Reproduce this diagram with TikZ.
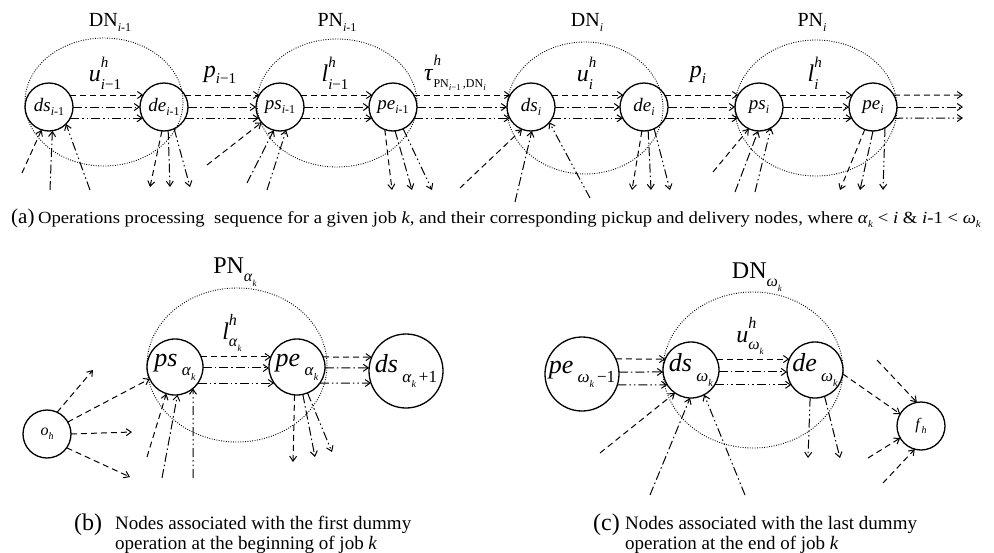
\documentclass[tikz,border=0pt]{standalone}
\usepackage{fontspec}
\setmainfont{Liberation Serif}
\usetikzlibrary{arrows.meta}
\newcommand{\fsz}[1]{\fontsize{#1}{#1}\selectfont}
\newcommand{\supsub}[2]{\makebox[0pt][l]{\raisebox{0.6em}{#1}}\raisebox{-0.3em}{#2}}
\newcommand{\lowr}[2]{\raisebox{-0.25em}{\fsz{#1}#2}}
\tikzset{
  nd/.style={circle,draw,line width=1.3pt,inner sep=0pt,outer sep=0pt,minimum size=48pt,font=\fsz{19}},
  ndb/.style={nd,minimum size=56pt,font=\fsz{26}},
  ndl/.style={nd,minimum size=74pt,font=\fsz{26}},
  nds/.style={nd,font=\fsz{16}},
  grp/.style={line width=0.9pt,dash pattern=on 0.9pt off 1.5pt},
  ar/.style={line width=1pt,-{Straight Barb[length=5pt,width=7pt]}},
  da/.style={ar,dash pattern=on 6pt off 4pt},
  dd/.style={ar,dash pattern=on 9pt off 3pt on 1.5pt off 3pt},
  ddd/.style={ar,dash pattern=on 9pt off 3pt on 1.5pt off 3pt on 1.5pt off 3pt},
  lab/.style={inner sep=0pt,font=\fsz{24}},
  grplab/.style={inner sep=0pt,font=\fsz{20}},
  captxt/.style={inner sep=0pt,anchor=base west,font=\fsz{15}},
  capsub/.style={inner sep=0pt,anchor=base west,font=\fsz{19}},
}
\begin{document}
\begin{tikzpicture}[x=1pt,y=-1pt]
\useasboundingbox (0,0) rectangle (994,552);

% ---------------- panel (a) ----------------
\draw[grp] (104,102) ellipse [x radius=79, y radius=64];
\draw[grp] (337,103) ellipse [x radius=80, y radius=64];
\draw[grp] (585,108) ellipse [x radius=78, y radius=66];
\draw[grp] (816,108) ellipse [x radius=81, y radius=68];

\node[grplab] (gDN1) at (110,22) {DN\lowr{12}{\textit{i}-1}};
\node[grplab] (gPN1) at (337,22) {PN\lowr{12}{\textit{i}-1}};
\node[grplab] (gDN2) at (587,22) {DN\lowr{12}{\textit{i}}};
\node[grplab] (gPN2) at (812,22) {PN\lowr{12}{\textit{i}}};

\node[nd] (ds1) at (49,107) {\textit{ds}\lowr{12}{\textit{i}-1}};
\node[nd] (de1) at (164,107) {\textit{de}\lowr{12}{\textit{i}-1}};
\node[nd] (ps1) at (280,107) {\textit{ps}\lowr{12}{\textit{i}-1}};
\node[nd] (pe1) at (393,107) {\textit{pe}\lowr{12}{\textit{i}-1}};
\node[nd] (ds2) at (531,107) {\textit{ds}\lowr{12}{\textit{i}}};
\node[nd] (de2) at (644,107) {\textit{de}\lowr{12}{\textit{i}}};
\node[nd] (ps2) at (759,107) {\textit{ps}\lowr{12}{\textit{i}}};
\node[nd] (pe2) at (873,107) {\textit{pe}\lowr{12}{\textit{i}}};

\node[lab] (l1) at (105,73) {\textit{u}\supsub{\fsz{15}\textit{h}}{\fsz{15}\textit{i}−1}};
\node[lab] (l2) at (220,75) {\textit{p}\lowr{15}{\textit{i}−1}};
\node[lab] (l3) at (335,73) {\textit{l}\supsub{\fsz{15}\textit{h}}{\fsz{15}\textit{i}−1}};
\node[lab] (l4) at (455,73) {\textit{τ}\supsub{\fsz{15}\textit{h}}{\fsz{12}PN\raisebox{-0.25em}{\fsz{9}\textit{i}−1}\,,DN\raisebox{-0.25em}{\fsz{9}\textit{i}}}};
\node[lab] (l5) at (585,73) {\textit{u}\supsub{\fsz{15}\textit{h}}{\fsz{15}\textit{i}}};
\node[lab] (l6) at (698,75) {\textit{p}\lowr{15}{\textit{i}}};
\node[lab] (l7) at (813,73) {\textit{l}\supsub{\fsz{15}\textit{h}}{\fsz{15}\textit{i}}};

\foreach \a/\b in {ds1/de1,de1/ps1,ps1/pe1,pe1/ds2,ds2/de2,de2/ps2,ps2/pe2}{
  \draw[da] (\a.30) -- (\b.150);
  \draw[dd] (\a.0) -- (\b.180);
  \draw[ddd] (\a.-28) -- (\b.-152);
}
\coordinate (t1) at (963,95);
\coordinate (t2) at (963,107);
\coordinate (t3) at (963,118);
\draw[da] (pe2.30) -- (t1);
\draw[dd] (pe2.0) -- (t2);
\draw[ddd] (pe2.-28) -- (t3);

% below ds1
\coordinate (a1) at (22,173);
\coordinate (a2) at (50,190);
\coordinate (a3) at (90,190);
\draw[da] (a1) -- (ds1.-108);
\draw[dd] (a2) -- (ds1.-82);
\draw[ddd] (a3) -- (ds1.-45);
% below de1
\coordinate (b1) at (150,187);
\coordinate (b2) at (170,187);
\coordinate (b3) at (190,187);
\draw[da] (de1.-95) -- (b1);
\draw[dd] (de1.-80) -- (b2);
\draw[ddd] (de1.-65) -- (b3);
% below ps1
\coordinate (c1) at (207,165);
\coordinate (c2) at (247,183);
\coordinate (c3) at (267,190);
\draw[da] (c1) -- (ps1.-140);
\draw[dd] (c2) -- (ps1.-105);
\draw[ddd] (c3) -- (ps1.-75);
% below pe1
\coordinate (d1) at (392,190);
\coordinate (d2) at (412,190);
\coordinate (d3) at (432,190);
\draw[da] (pe1.-110) -- (d1);
\draw[dd] (pe1.-85) -- (d2);
\draw[ddd] (pe1.-65) -- (d3);
% below ds2
\coordinate (e1) at (460,188);
\coordinate (e2) at (515,202);
\coordinate (e3) at (590,198);
\draw[da] (e1) -- (ds2.-112);
\draw[dd] (e2) -- (ds2.-88);
\draw[ddd] (e3) -- (ds2.-40);
% below de2
\coordinate (f1) at (632,190);
\coordinate (f2) at (651,190);
\coordinate (f3) at (670,190);
\draw[da] (de2.-95) -- (f1);
\draw[dd] (de2.-80) -- (f2);
\draw[ddd] (de2.-65) -- (f3);
% below ps2
\coordinate (g1) at (713,172);
\coordinate (g2) at (735,192);
\coordinate (g3) at (755,192);
\draw[da] (g1) -- (ps2.-115);
\draw[dd] (g2) -- (ps2.-92);
\draw[ddd] (g3) -- (ps2.-60);
% below pe2
\coordinate (h1) at (840,190);
\coordinate (h2) at (860,190);
\coordinate (h3) at (883,190);
\draw[da] (pe2.-110) -- (h1);
\draw[dd] (pe2.-90) -- (h2);
\draw[ddd] (pe2.-60) -- (h3);

\node[captxt] (capa) at (11,223) {\fsz{21}(a)\,\scalebox{1.1}[1]{\fsz{17}Operations processing\ \ sequence for a given job \textit{k}, and their corresponding pickup and delivery nodes, where \textit{α}\lowr{10}{\textit{k}} < \textit{i} \& \textit{i}-1 < \textit{ω}\lowr{10}{\textit{k}}}};

% ---------------- panel (b) ----------------
\draw[grp] (237,365) ellipse [x radius=90, y radius=77];
\node[grplab,font=\fsz{24}] (gPNa) at (235,272) {PN\raisebox{-0.35em}{\fsz{16}\textit{α}\raisebox{-0.3em}{\fsz{9}\textit{k}}}};
\node[lab] (la) at (232,333) {\textit{l}\supsub{\fsz{16}\textit{h}}{\fsz{16}\textit{α}\raisebox{-0.3em}{\fsz{9}\textit{k}}}};

\node[nds] (oh) at (47,434) {\textit{o}\lowr{10}{\textit{h}}};
\node[ndb] (psa) at (175,367) {\textit{ps}\,\raisebox{-0.35em}{\fsz{17}\textit{α}\raisebox{-0.3em}{\fsz{10}\textit{k}}}};
\node[ndb] (pea) at (297,367) {\textit{pe}\,\raisebox{-0.35em}{\fsz{17}\textit{α}\raisebox{-0.3em}{\fsz{10}\textit{k}}}};
\node[ndl] (dsa) at (406,371) {\textit{ds}\,\raisebox{-0.35em}{\fsz{17}\textit{α}\raisebox{-0.3em}{\fsz{10}\textit{k}}\,+1}};

\draw[da] (psa.21) -- (pea.159);
\draw[dd] (psa.-2) -- (pea.182);
\draw[ddd] (psa.-35) -- (pea.-145);
\draw[da] (pea.21) -- (dsa.158);
\draw[dd] (pea.-2) -- (dsa.175);
\draw[ddd] (pea.-35) -- (dsa.-161);

\coordinate (o1) at (93,370);
\coordinate (o3) at (132,432);
\coordinate (o4) at (130,477);
\draw[da] (oh.65) -- (o1);
\draw[da] (oh.30) -- (psa.-155);
\draw[da] (oh.0) -- (o3);
\draw[da] (oh.-35) -- (o4);

\coordinate (p1) at (147,457);
\coordinate (p2) at (162,478);
\coordinate (p3) at (193,478);
\draw[da] (p1) -- (psa.-108);
\draw[dd] (p2) -- (psa.-85);
\draw[ddd] (p3) -- (psa.-50);

\coordinate (q1) at (293,462);
\coordinate (q2) at (315,457);
\coordinate (q3) at (332,452);
\draw[da] (pea.-95) -- (q1);
\draw[dd] (pea.-78) -- (q2);
\draw[ddd] (pea.-68) -- (q3);

\node[capsub,font=\fsz{24}] (capb0) at (74,530) {(b)};
\node[capsub] (capb1) at (115,529) {Nodes associated with the first dummy};
\node[capsub] (capb2) at (115,549) {operation at the beginning of job \textit{k}};

% ---------------- panel (c) ----------------
\draw[grp] (753,370) ellipse [x radius=90, y radius=78];
\node[grplab,font=\fsz{24}] (gDNw) at (757,277) {DN\raisebox{-0.35em}{\fsz{16}\textit{ω}\raisebox{-0.3em}{\fsz{9}\textit{k}}}};
\node[lab] (lw) at (750,336) {\textit{u}\supsub{\fsz{16}\textit{h}}{\fsz{16}\textit{ω}\raisebox{-0.3em}{\fsz{9}\textit{k}}}};

\node[ndl] (pew) at (582,374) {\textit{pe}\,\raisebox{-0.35em}{\fsz{17}\textit{ω}\raisebox{-0.3em}{\fsz{10}\textit{k}}\,−1}};
\node[ndb] (dsw) at (691,370) {\textit{ds}\,\raisebox{-0.35em}{\fsz{17}\textit{ω}\raisebox{-0.3em}{\fsz{10}\textit{k}}}};
\node[ndb] (dew) at (815,370) {\textit{de}\,\raisebox{-0.35em}{\fsz{17}\textit{ω}\raisebox{-0.3em}{\fsz{10}\textit{k}}}};
\node[nds] (fh) at (921,426) {\textit{f}\lowr{10}{\textit{h}}};

\draw[da] (pew.24) -- (dsw.157);
\draw[dd] (pew.3) -- (dsw.-176);
\draw[ddd] (pew.-17) -- (dsw.-148);
\draw[da] (dsw.23) -- (dew.157);
\draw[dd] (dsw.-4) -- (dew.-176);
\draw[ddd] (dsw.-32) -- (dew.-148);

\coordinate (r1) at (600,453);
\coordinate (r2) at (650,495);
\coordinate (r3) at (745,495);
\draw[da] (r1) -- (dsw.-125);
\draw[dd] (r2) -- (dsw.-92);
\draw[ddd] (r3) -- (dsw.-62);

\coordinate (s1) at (808,458);
\coordinate (s2) at (840,458);
\draw[ddd] (dew.-100) -- (s1);
\draw[dd] (dew.-70) -- (s2);
\draw[da] (dew.-8) -- (fh.150);

\coordinate (u1) at (877,360);
\coordinate (u2) at (868,458);
\coordinate (u3) at (883,483);
\draw[da] (u1) -- (fh.100);
\draw[da] (u2) -- (fh.-150);
\draw[da] (u3) -- (fh.-105);

\node[capsub,font=\fsz{24}] (capc0) at (593,530) {(c)};
\node[capsub] (capc1) at (625,529) {Nodes associated with the last dummy};
\node[capsub] (capc2) at (625,549) {operation at the end of job \textit{k}};
\end{tikzpicture}
\end{document}
